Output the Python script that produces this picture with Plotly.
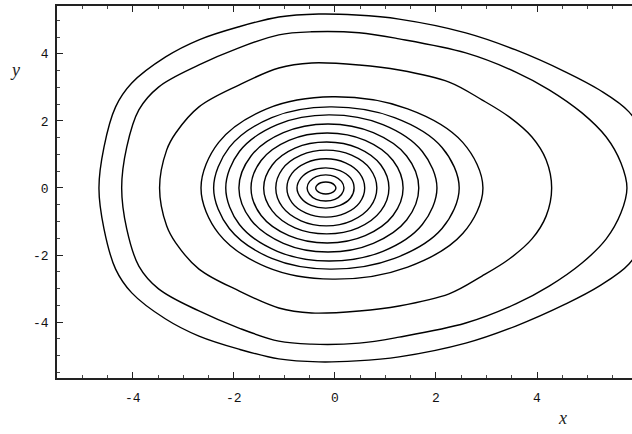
import plotly.graph_objects as go

# three large curves: upper halves, left to right (curves are symmetric about y=0)
big1_x = [-4.67, -4.57, -4.34, -4.02, -3.35, -2.69, -1.90, -1.11, -0.32, 0.42, 1.27, 2.59, 3.58, 4.57, 5.23, 5.82, 6.20, 6.40]
big1_y = [0.0, 1.22, 2.42, 3.13, 3.91, 4.42, 4.81, 5.10, 5.19, 5.16, 5.04, 4.63, 4.12, 3.46, 2.93, 2.27, 1.30, 0.0]

big2_x = [-4.22, -4.12, -3.88, -3.49, -2.69, -1.90, -1.11, -0.46, 0.48, 1.27, 2.59, 3.58, 4.24, 4.89, 5.37, 5.66, 5.78]
big2_y = [0.0, 1.22, 2.33, 3.01, 3.67, 4.18, 4.57, 4.66, 4.63, 4.45, 4.03, 3.46, 2.93, 2.24, 1.52, 0.75, 0.0]

big3_x = [-3.47, -3.33, -3.15, -2.69, -1.90, -1.11, -0.46, 0.48, 1.27, 2.26, 2.91, 3.45, 3.90, 4.18, 4.29]
big3_y = [0.0, 1.13, 1.64, 2.42, 3.07, 3.58, 3.73, 3.67, 3.52, 3.16, 2.63, 2.12, 1.52, 0.84, 0.0]

# eleven inner rings (outermost first), upper halves read at seven points each
ring_left = [-2.65, -2.40, -2.16, -1.90, -1.66, -1.41, -1.17, -0.95, -0.75, -0.55, -0.38]
ring_x150 = [-2.30, -2.09, -1.89, -1.66, -1.46, -1.24, -1.04, -0.85, -0.67, -0.50, -0.35]
ring_x120 = [-1.35, -1.25, -1.14, -1.02, -0.91, -0.79, -0.67, -0.57, -0.47, -0.37, -0.28]
ring_top_x = [-0.05, -0.10, -0.12, -0.14, -0.15, -0.16, -0.17, -0.18, -0.18, -0.18, -0.18]
ring_x60 = [1.44, 1.18, 0.95, 0.76, 0.60, 0.46, 0.33, 0.21, 0.10, 0.00, -0.08]
ring_x30 = [2.53, 2.12, 1.73, 1.42, 1.15, 0.91, 0.70, 0.49, 0.31, 0.13, -0.01]
ring_right = [2.93, 2.46, 2.02, 1.66, 1.35, 1.07, 0.83, 0.59, 0.38, 0.18, 0.02]
ring_top_y = [2.72, 2.42, 2.18, 1.91, 1.64, 1.37, 1.13, 0.87, 0.60, 0.39, 0.18]
ring_y_high = [2.36, 2.10, 1.89, 1.65, 1.42, 1.19, 0.98, 0.75, 0.52, 0.34, 0.155]
ring_y_low = [1.36, 1.21, 1.09, 0.955, 0.82, 0.685, 0.565, 0.435, 0.30, 0.195, 0.09]


def closed(ux, uy):
    # upper half left->right, then mirrored lower half back to the start
    xs = list(ux) + list(ux[-2::-1])
    ys = list(uy) + [-v for v in uy[-2::-1]]
    return xs, ys


curves = [closed(big1_x, big1_y), closed(big2_x, big2_y), closed(big3_x, big3_y)]
for i in range(len(ring_left)):
    ux = [ring_left[i], ring_x150[i], ring_x120[i], ring_top_x[i], ring_x60[i], ring_x30[i], ring_right[i]]
    uy = [0.0, ring_y_low[i], ring_y_high[i], ring_top_y[i], ring_y_high[i], ring_y_low[i], 0.0]
    curves.append(closed(ux, uy))

fig = go.Figure()
for xs, ys in curves:
    fig.add_trace(go.Scatter(x=xs, y=ys, mode='lines',
                             line=dict(color='black', width=1.4, shape='spline', smoothing=1.0),
                             hoverinfo='skip', showlegend=False))

tickfont = dict(family='Liberation Mono', size=13, color='#111')
fig.update_xaxes(range=[-5.50, 5.88], tickvals=[-4, -2, 0, 2, 4], ticktext=['-4', '-2', '0', '2', '4'],
                 ticks='inside', ticklen=6, tickwidth=1, tickcolor='#222', ticklabelstandoff=7,
                 minor=dict(dtick=0.5, ticks='inside', ticklen=3, tickcolor='#444'),
                 showline=True, linecolor='#222', linewidth=1.6, mirror='ticks',
                 showgrid=False, zeroline=False, tickfont=tickfont)
fig.update_yaxes(range=[-5.67, 5.43], tickvals=[-4, -2, 0, 2, 4], ticktext=['-4', '-2', '0', '2', '4'],
                 ticks='inside', ticklen=6, tickwidth=1, tickcolor='#222', ticklabelstandoff=4,
                 minor=dict(dtick=0.5, ticks='inside', ticklen=3, tickcolor='#444'),
                 showline=True, linecolor='#222', linewidth=1.6, mirror=False,
                 showgrid=False, zeroline=False, tickfont=tickfont)

fig.add_annotation(text='<i>y</i>', xref='paper', yref='paper', x=-0.086, y=0.86,
                   showarrow=False, font=dict(family='Liberation Serif', size=18, color='#222'))
fig.add_annotation(text='<i>x</i>', xref='paper', yref='paper', x=0.89, y=-0.14,
                   showarrow=False, font=dict(family='Liberation Serif', size=18, color='#222'))

fig.update_layout(width=632, height=434, margin=dict(l=57, r=0, t=6, b=56),
                  plot_bgcolor='white', paper_bgcolor='white')
fig.write_html("out.html", config={'displayModeBar': False},
               post_script="document.body.style.margin='0';")
